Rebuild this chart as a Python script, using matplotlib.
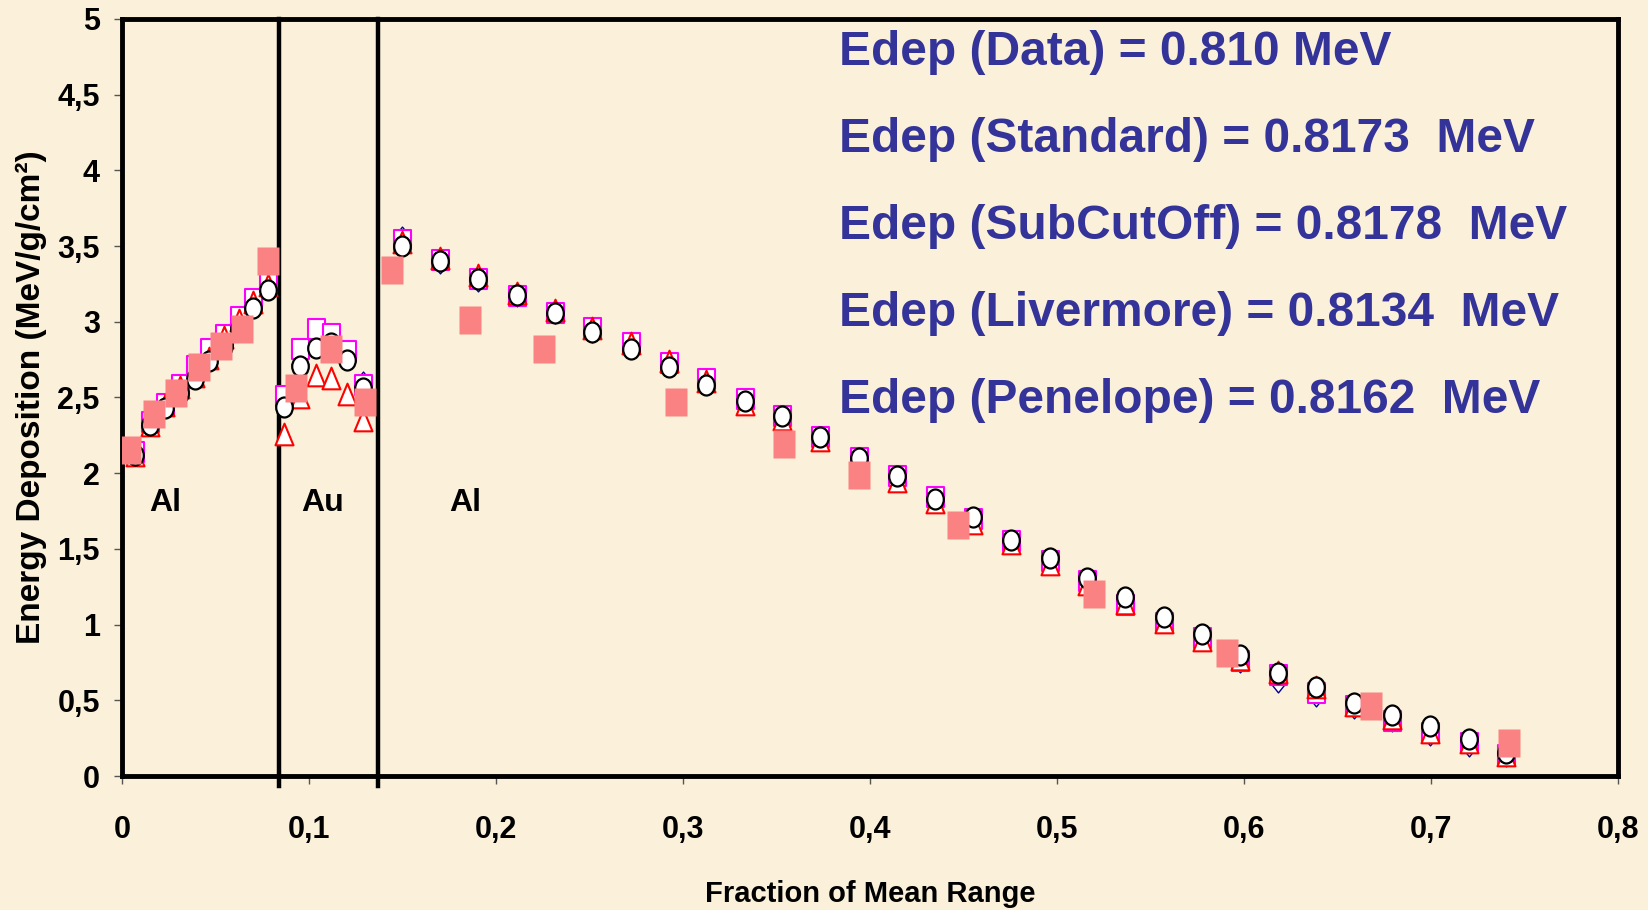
#!/usr/bin/env python3

import numpy as np
import matplotlib.pyplot as plt
import matplotlib as mpl
from matplotlib.path import Path

mpl.rcParams['font.family'] = ['Liberation Sans', 'DejaVu Sans']
mpl.rcParams['font.weight'] = 'bold'

# Monte Carlo bins (Al / Au / Al)
x_mc = [0.007, 0.015, 0.023, 0.031, 0.039, 0.0465, 0.0545, 0.0625, 0.070, 0.078,
        0.0865, 0.095, 0.1035, 0.112, 0.1205, 0.129,
        0.1495, 0.170, 0.1905, 0.211, 0.2315, 0.2515, 0.272, 0.2925, 0.3125, 0.333,
        0.353, 0.3735, 0.394, 0.4145, 0.4345, 0.455, 0.4755, 0.496, 0.516, 0.5365,
        0.557, 0.5775, 0.598, 0.618, 0.6385, 0.659, 0.679, 0.6995, 0.7205, 0.740]

standard = [2.14, 2.33, 2.44, 2.55, 2.63, 2.75, 2.86, 2.97, 3.10, 3.22,
            2.45, 2.72, 2.85, 2.84, 2.76, 2.60,
            3.56, 3.39, 3.27, 3.17, 3.06, 2.93, 2.83, 2.71, 2.59, 2.48,
            2.37, 2.23, 2.09, 1.97, 1.83, 1.70, 1.54, 1.42, 1.29, 1.15,
            1.03, 0.91, 0.755, 0.62, 0.53, 0.45, 0.36, 0.27, 0.20, 0.13]

subcutoff = [2.14, 2.34, 2.46, 2.58, 2.71, 2.82, 2.915, 3.03, 3.15, 3.26,
             2.51, 2.82, 2.95, 2.92, 2.81, 2.58,
             3.54, 3.41, 3.28, 3.17, 3.06, 2.96, 2.86, 2.73, 2.62, 2.49,
             2.38, 2.24, 2.10, 1.98, 1.84, 1.70, 1.55, 1.42, 1.29, 1.13,
             1.01, 0.91, 0.76, 0.67, 0.55, 0.46, 0.365, 0.285, 0.215, 0.14]

livermore = [2.12, 2.32, 2.45, 2.57, 2.64, 2.76, 2.90, 3.01, 3.13, 3.24,
             2.26, 2.50, 2.65, 2.63, 2.52, 2.35,
             3.53, 3.42, 3.31, 3.19, 3.08, 2.96, 2.86, 2.74, 2.61, 2.46,
             2.36, 2.22, 2.09, 1.95, 1.81, 1.67, 1.54, 1.40, 1.27, 1.14,
             1.02, 0.90, 0.77, 0.69, 0.585, 0.47, 0.38, 0.29, 0.225, 0.14]

penelope = [2.12, 2.32, 2.43, 2.53, 2.62, 2.74, 2.84, 2.95, 3.09, 3.21,
            2.44, 2.71, 2.83, 2.86, 2.75, 2.56,
            3.50, 3.40, 3.28, 3.18, 3.06, 2.93, 2.82, 2.70, 2.58, 2.48,
            2.375, 2.24, 2.10, 1.98, 1.83, 1.71, 1.56, 1.44, 1.31, 1.18,
            1.05, 0.94, 0.80, 0.68, 0.586, 0.484, 0.40, 0.33, 0.244, 0.15]

# measured data
x_data = [0.0045, 0.0173, 0.0287, 0.0414, 0.0531, 0.0642, 0.0779, 0.0932, 0.112, 0.130,
          0.1446, 0.186, 0.2256, 0.2965, 0.354, 0.394, 0.447, 0.520, 0.591, 0.668, 0.7415]
y_data = [2.15, 2.39, 2.53, 2.70, 2.84, 2.95, 3.40, 2.56, 2.82, 2.47,
          3.34, 3.01, 2.82, 2.47, 2.19, 1.99, 1.66, 1.20, 0.81, 0.46, 0.22]

layer_edges = [0.084, 0.137]
layer_names = ['Al', 'Au', 'Al']
layer_label_x = [0.023, 0.1075, 0.1835]

edep_lines = ['Edep (Data) = 0.810 MeV',
              'Edep (Standard) = 0.8173  MeV',
              'Edep (SubCutOff) = 0.8178  MeV',
              'Edep (Livermore) = 0.8134  MeV',
              'Edep (Penelope) = 0.8162  MeV']

x_ticks = [0, 0.1, 0.2, 0.3, 0.4, 0.5, 0.6, 0.7, 0.8]
x_ticklabels = ['0', '0,1', '0,2', '0,3', '0,4', '0,5', '0,6', '0,7', '0,8']
y_ticks = [0, 0.5, 1, 1.5, 2, 2.5, 3, 3.5, 4, 4.5, 5]
y_ticklabels = ['0', '0,5', '1', '1,5', '2', '2,5', '3', '3,5', '4', '4,5', '5']


# markers are a bit taller than wide in the original
def box(w):
	return Path([(-w/2, -0.5), (w/2, -0.5), (w/2, 0.5), (-w/2, 0.5), (-w/2, -0.5)], closed=True)

def tri(w):
	return Path([(0, 0.5), (-w/2, -0.5), (w/2, -0.5), (0, 0.5)], closed=True)

def dia(w):
	return Path([(0, 0.5), (w/2, 0), (0, -0.5), (-w/2, 0), (0, 0.5)], closed=True)

def ell(w):
	c = Path.unit_circle()
	return Path(c.vertices*np.array([w/2., 0.5]), c.codes)


bg = '#FBF1DA'
fig = plt.figure(figsize=(16.49, 9.10), dpi=100, facecolor=bg)
ax = fig.add_axes((122/1649., 1-776/910., 1496/1649., 757/910.))
ax.set_facecolor(bg)

ax.plot(x_mc, standard, ls='none', marker=dia(0.8), ms=15, mfc='white', mec='#000080', mew=1.0, zorder=3)
ax.plot(x_mc, subcutoff, ls='none', marker=box(0.85), ms=14.4, mfc='white', mec='#FF00FF', mew=1.5, zorder=4)
ax.plot(x_mc, livermore, ls='none', marker=tri(0.83), ms=15.6, mfc='white', mec='#FF0000', mew=1.5, zorder=5)
ax.plot(x_mc, penelope, ls='none', marker=ell(0.83), ms=14.4, mfc='white', mec='black', mew=1.6, zorder=6)
ax.plot(x_data, y_data, ls='none', marker=box(0.8), ms=20, mfc='#FA8282', mec='none', zorder=7)

for xe in layer_edges:
	ax.axvline(xe, ymin=-0.013, ymax=1, color='black', lw=3.2, clip_on=False, zorder=2)

for name, xl in zip(layer_names, layer_label_x):
	ax.text(xl, 1.80, name, ha='center', va='center', fontsize=23, fontweight='bold', color='black')

for i, line in enumerate(edep_lines):
	fig.text(839/1649., 1-(52.6+87.0*i)/910., line, ha='left', va='center',
	         fontsize=34.5, fontweight='bold', color='#333399')

ax.set_xlim([0., 0.8])
ax.set_ylim([0., 5.])
ax.set_xticks(x_ticks)
ax.set_xticklabels(x_ticklabels)
ax.set_yticks(y_ticks)
ax.set_yticklabels(y_ticklabels)

ax.tick_params(axis='both', direction='out', length=6, width=1, color='#555555', labelsize=22)
ax.tick_params(axis='x', pad=22)
ax.tick_params(axis='y', pad=10)

for sp in ax.spines.values():
	sp.set_linewidth(3.5)
	sp.set_color('black')

ax.set_xlabel('Fraction of Mean Range', fontsize=21, fontweight='bold')
ax.xaxis.set_label_coords(0.5, -0.137)
ax.set_ylabel('Energy Deposition (MeV/g/cm²)', fontsize=24, fontweight='bold')
ax.yaxis.set_label_coords(-0.050, 0.5)

plt.savefig('out.png', dpi=100, facecolor=bg)
